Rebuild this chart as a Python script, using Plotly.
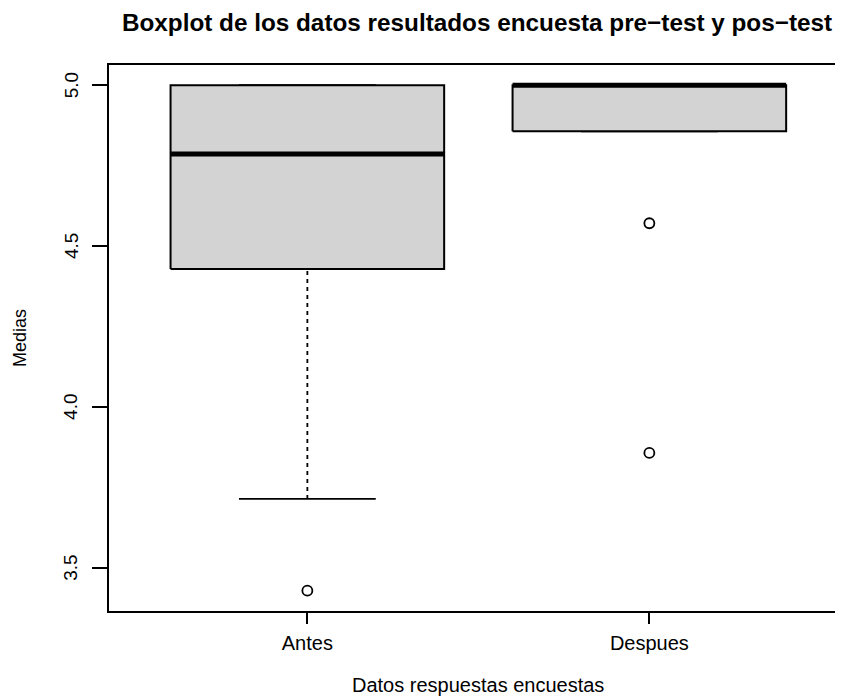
import plotly.graph_objects as go

# ---- data ----
categories = ["Antes", "Despues"]
q1 = [4.429, 4.857]
median = [4.786, 5.0]
q3 = [5.0, 5.0]
lower_whisker = [3.714, 4.857]
upper_whisker = [5.0, 5.0]
outliers = [[3.429], [4.571, 3.857]]
y_tickvals = [3.5, 4.0, 4.5, 5.0]
y_ticktext = ["3.5", "4.0", "4.5", "5.0"]

title_text = "Boxplot de los datos resultados encuesta pre\u2212test y pos\u2212test"
x_title = "Datos respuestas encuestas"
y_title = "Medias"

# ---- style / layout (page body adds an 8px offset) ----
OFF = 8
BOXW = 0.8
STAPLE = 0.4
FONT = "Liberation Sans, Arial, Helvetica, sans-serif"
W, H = 843 - OFF, 697 - OFF
ML, MT, MB, MR = 109 - OFF, 65 - OFF, 697 - 611, 0
plot_w = W - ML - MR
plot_h = H - MT - MB

fig = go.Figure()
positions = list(range(1, len(categories) + 1))

for i, c in enumerate(positions):
    fig.add_trace(go.Scatter(x=[c, c], y=[lower_whisker[i], q1[i]], mode="lines",
                             line=dict(color="black", width=1.8, dash="4px,4px"),
                             hoverinfo="skip", showlegend=False))
    fig.add_trace(go.Scatter(x=[c, c], y=[q3[i], upper_whisker[i]], mode="lines",
                             line=dict(color="black", width=1.8, dash="4px,4px"),
                             hoverinfo="skip", showlegend=False))
    for v in (lower_whisker[i], upper_whisker[i]):
        fig.add_trace(go.Scatter(x=[c - STAPLE / 2, c + STAPLE / 2], y=[v, v], mode="lines",
                                 line=dict(color="black", width=1.8),
                                 hoverinfo="skip", showlegend=False))
    fig.add_trace(go.Scatter(x=[c - BOXW / 2, c + BOXW / 2, c + BOXW / 2, c - BOXW / 2, c - BOXW / 2],
                             y=[q1[i], q1[i], q3[i], q3[i], q1[i]], mode="lines",
                             fill="toself", fillcolor="#D3D3D3",
                             line=dict(color="black", width=2),
                             hoverinfo="skip", showlegend=False))
    fig.add_trace(go.Scatter(x=[c - BOXW / 2, c + BOXW / 2], y=[median[i], median[i]], mode="lines",
                             line=dict(color="black", width=5),
                             hoverinfo="skip", showlegend=False))
    fig.add_trace(go.Scatter(x=[c] * len(outliers[i]), y=outliers[i], mode="markers",
                             marker=dict(symbol="circle-open", size=10, color="black",
                                         line=dict(width=1.8, color="black")),
                             hoverinfo="skip", showlegend=False))

units_per_px = 1 / 342.0
x0 = 0.42
x1 = x0 + plot_w * units_per_px

annotations = [
    dict(text=x_title, xref="paper", yref="paper", x=(478 - 109) / plot_w,
         y=-(685 - 611) / plot_h,
         xanchor="center", yanchor="middle", showarrow=False, font=dict(size=20, family=FONT)),
    dict(text=y_title, xref="paper", yref="paper", x=-(109 - 20) / plot_w,
         y=1 - (338 - 65) / plot_h, textangle=-90,
         xanchor="center", yanchor="middle", showarrow=False, font=dict(size=18, family=FONT)),
]
for v, t in zip(y_tickvals, y_ticktext):
    annotations.append(dict(text=t, xref="paper", yref="y", x=-(109 - 71) / plot_w, y=v,
                            textangle=-90, xanchor="center", yanchor="middle",
                            showarrow=False, font=dict(size=19, family=FONT)))

fig.update_layout(
    width=W, height=H,
    margin=dict(l=ML, r=MR, t=MT, b=MB, pad=0),
    paper_bgcolor="white", plot_bgcolor="white",
    font=dict(family=FONT, color="black"),
    showlegend=False,
    title=dict(text="<b>" + title_text + "</b>", x=(477 - OFF) / W, xref="container", xanchor="center",
               y=1 - (22 - OFF) / H, yref="container", yanchor="middle",
               font=dict(size=24.3, family=FONT, color="black")),
    xaxis=dict(range=[x0, x1], tickvals=positions, ticktext=categories,
               ticks="outside", ticklen=11, tickwidth=1.8, tickcolor="black",
               showline=True, linecolor="black", linewidth=1.8, mirror=True,
               showgrid=False, zeroline=False, tickfont=dict(size=20, family=FONT),
               ticklabelstandoff=2),
    yaxis=dict(range=[3.3657, 5.0629], tickvals=y_tickvals, showticklabels=False,
               ticks="outside", ticklen=15, tickwidth=1.8, tickcolor="black",
               showline=True, linecolor="black", linewidth=1.8, mirror=False,
               showgrid=False, zeroline=False),
    annotations=annotations,
)

fig.write_html("out.html")
